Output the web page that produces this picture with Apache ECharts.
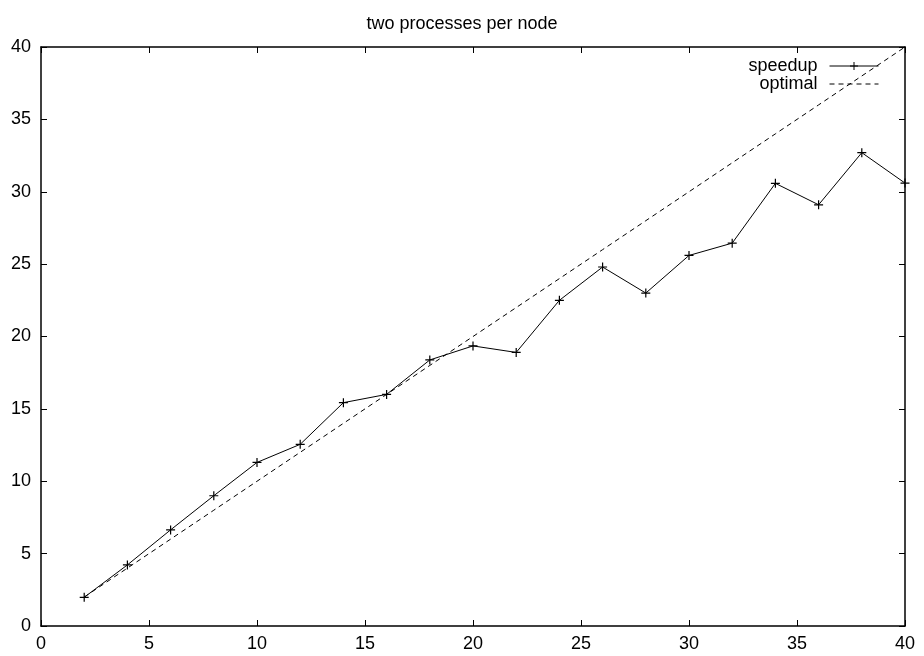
<!DOCTYPE html>
<html>
<head>
<meta charset="utf-8">
<script src="https://cdn.jsdelivr.net/npm/echarts@6/dist/echarts.min.js"></script>
<style>
  html, body { margin: 0; padding: 0; background: #fff; }
  #chart { width: 924px; height: 656px; }
</style>
</head>
<body>
<div id="chart"></div>
<script>
const nodes = [2, 4, 6, 8, 10, 12, 14, 16, 18, 20, 22, 24, 26, 28, 30, 32, 34, 36, 38, 40];
const speedup = [1.98, 4.22, 6.64, 9.0, 11.3, 12.55, 15.43, 16.0, 18.38, 19.35, 18.9, 22.5, 24.8, 23.0, 25.6, 26.45, 30.58, 29.1, 32.7, 30.6];
const optimal = [2, 4, 6, 8, 10, 12, 14, 16, 18, 20, 22, 24, 26, 28, 30, 32, 34, 36, 38, 40];

const font = 'Liberation Sans, Arial, sans-serif';
const plus = 'path://M0,5L10,5M5,0L5,10';

const baseAxis = {
  type: 'value', min: 0, max: 40, interval: 5,
  axisLine: { show: true, onZero: false, lineStyle: { color: '#000', width: 1.5 } },
  axisTick: { show: true, inside: true, length: 6, lineStyle: { color: '#000' } },
  splitLine: { show: false },
};

const chart = echarts.init(document.getElementById('chart'));
chart.setOption({
  animation: false,
  title: {
    text: 'two processes per node', left: 'center', top: 10,
    textStyle: { fontFamily: font, fontSize: 18, fontWeight: 'normal', color: '#000' },
  },
  grid: { left: 41, right: 19, top: 47, bottom: 30 },
  legend: {
    right: 40, top: 52, orient: 'vertical', align: 'right',
    itemWidth: 49, itemHeight: 10, itemGap: 0,
    textStyle: { fontFamily: font, fontSize: 18, color: '#000', padding: [0, 7, 0, 0] },
    lineStyle: { width: 1 },
    data: [
      { name: 'speedup', itemStyle: { borderWidth: 1 } },
      { name: 'optimal', itemStyle: { opacity: 0 } },
    ],
  },
  xAxis: [
    { ...baseAxis, position: 'bottom',
      axisLabel: { fontFamily: font, fontSize: 18, color: '#000', margin: 9 } },
    { ...baseAxis, position: 'top', axisLabel: { show: false } },
  ],
  yAxis: [
    { ...baseAxis, position: 'left',
      axisLabel: { fontFamily: font, fontSize: 18, color: '#000', margin: 10 } },
    { ...baseAxis, position: 'right', axisLabel: { show: false } },
  ],
  series: [
    {
      name: 'speedup', type: 'line',
      data: nodes.map((x, i) => [x, speedup[i]]),
      symbol: plus, symbolSize: 9, showAllSymbol: true,
      lineStyle: { color: '#000', width: 1 },
      itemStyle: { color: '#000', borderColor: '#000', borderWidth: 1.2 },
      clip: false,
    },
    {
      name: 'optimal', type: 'line',
      data: nodes.map((x, i) => [x, optimal[i]]),
      symbol: 'none',
      lineStyle: { color: '#000', width: 1, type: [5, 4] },
      itemStyle: { color: '#000' },
    },
  ],
});
</script>
</body>
</html>
